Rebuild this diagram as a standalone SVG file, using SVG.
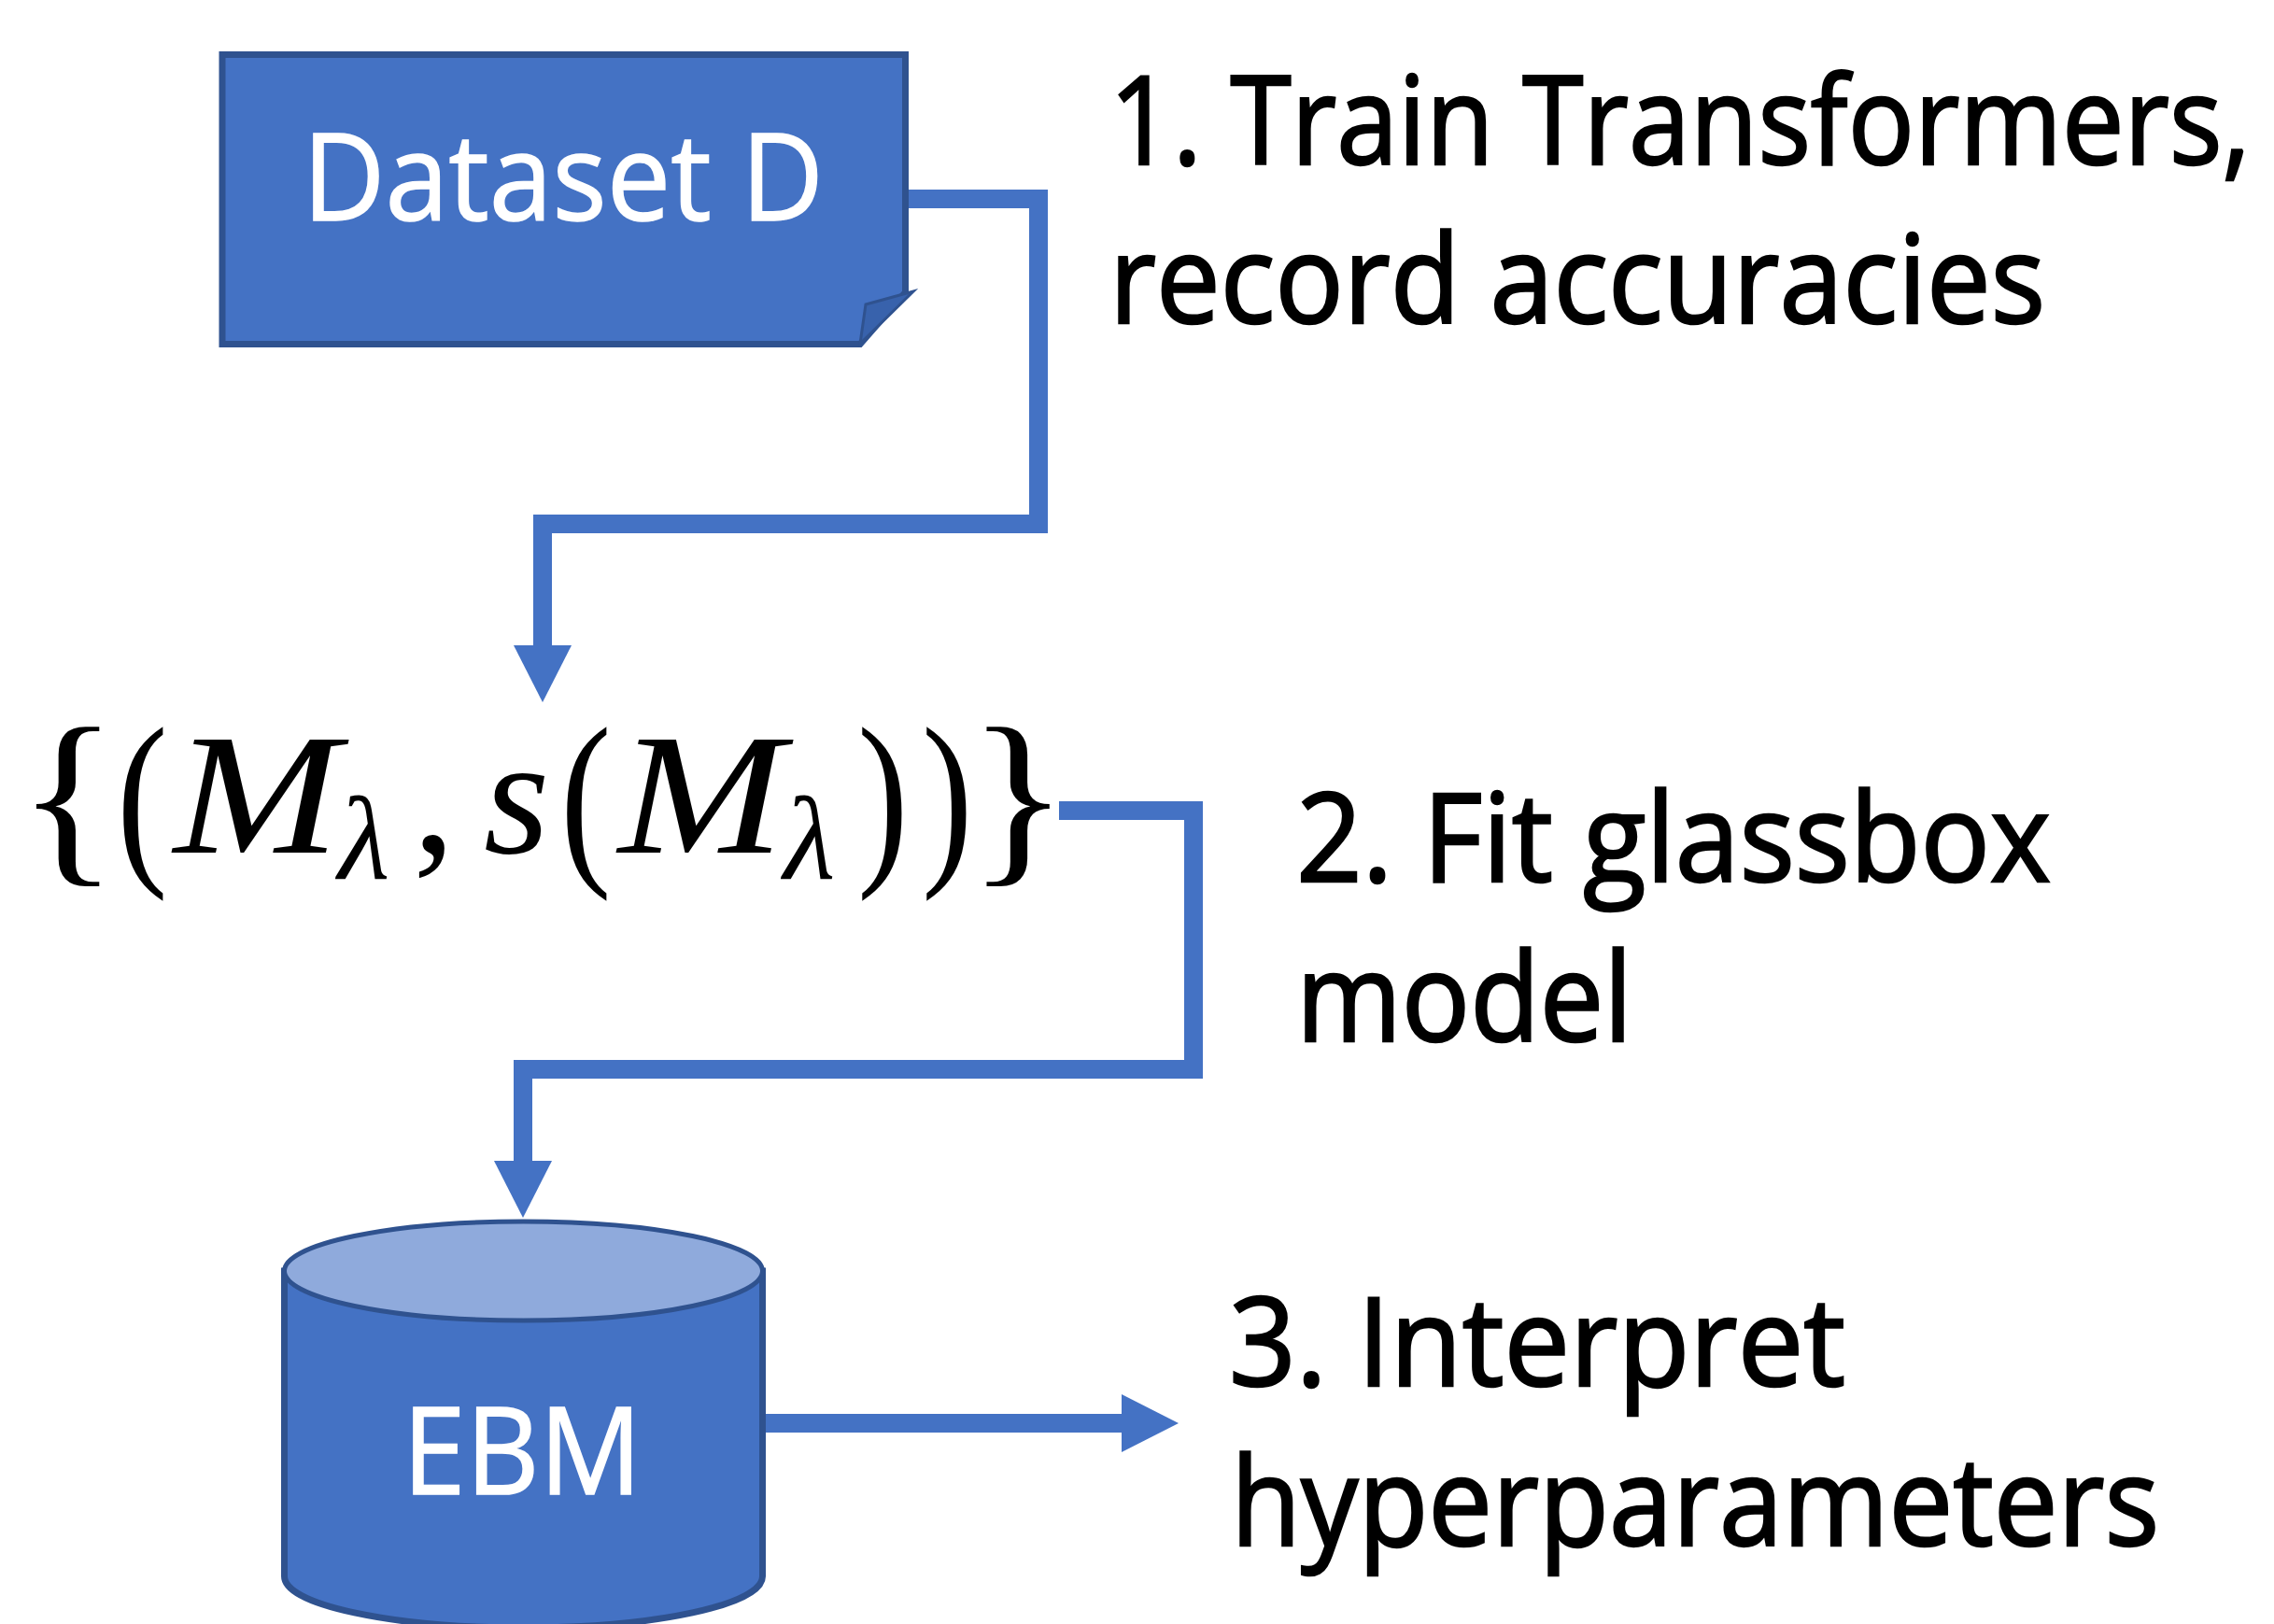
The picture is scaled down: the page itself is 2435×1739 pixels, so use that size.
<svg xmlns="http://www.w3.org/2000/svg" width="2435" height="1739" viewBox="0 0 2435 1739">
  <defs>
    <style>
      .label { font-family: "Open Sans", Lato, "Liberation Sans", sans-serif; font-size: 132px; fill: #000000; stroke: #000000; stroke-width: 2.5; }
      .inner { font-family: "Open Sans", Lato, "Liberation Sans", sans-serif; font-size: 130px; fill: #ffffff; stroke: #ffffff; stroke-width: 1.5; }
      .math { font-family: "Liberation Serif", "DejaVu Serif", serif; fill: #000000; }
      .mi { font-style: italic; }
      .delim { font-size: 205px; }
      .shape { fill: #4472C4; stroke: #2F528F; stroke-width: 7; stroke-linejoin: miter; }
      .link { fill: none; stroke: #4472C4; stroke-width: 20; stroke-linejoin: miter; stroke-linecap: butt; }
    </style>
    <marker id="arrow" viewBox="0 0 62 62" refX="0" refY="31" markerWidth="62" markerHeight="62" markerUnits="userSpaceOnUse" orient="auto">
      <path d="M0,0 L61,31 L0,62 Z" fill="#4472C4"/>
    </marker>
  </defs>

  <rect x="0" y="0" width="2435" height="1739" fill="#ffffff"/>

  <!-- Connectors -->
  <g id="connectors">
    <path class="link" d="M970,213 H1112 V561 H581 V691" marker-end="url(#arrow)"/>
    <path class="link" d="M1134,868 H1278 V1145 H560 V1243" marker-end="url(#arrow)"/>
    <path class="link" d="M818,1524 H1201" marker-end="url(#arrow)"/>
  </g>

  <!-- Dataset document with folded corner -->
  <g id="dataset">
    <path class="shape" d="M238,58.5 H969.5 V313 L921,368.5 H238 Z"/>
    <polygon points="921,368 927,326 978,312" fill="#3862AC" stroke="#2F528F" stroke-width="3" stroke-linejoin="miter"/>
    <text class="inner" x="324" y="236" textLength="558" lengthAdjust="spacingAndGlyphs">Dataset D</text>
  </g>

  <!-- Set of models with scores -->
  <g id="models">
    <text class="math delim" transform="translate(18.5,921) scale(1.1,1)">{</text>
    <text class="math delim" transform="translate(125,921) scale(0.8,1)">(</text>
    <text class="math mi" font-size="184" transform="translate(186,913) scale(1.16,1)">M</text>
    <text class="math mi" x="362" y="941" font-size="128">λ</text>
    <text class="math" x="442" y="913" font-size="181">,</text>
    <text class="math mi" x="518" y="913" font-size="181">s</text>
    <text class="math delim" transform="translate(600,921) scale(0.8,1)">(</text>
    <text class="math mi" font-size="184" transform="translate(662,913) scale(1.16,1)">M</text>
    <text class="math mi" x="839" y="941" font-size="128">λ</text>
    <text class="math delim" transform="translate(918,921) scale(0.8,1)">)</text>
    <text class="math delim" transform="translate(987,921) scale(0.8,1)">)</text>
    <text class="math delim" transform="translate(1036,921) scale(1.1,1)">}</text>
  </g>

  <!-- EBM database cylinder -->
  <g id="ebm">
    <path class="shape" stroke-width="5" d="M304.5,1361 V1688 A256,55 0 0 0 816.5,1688 V1361 Z"/>
    <ellipse cx="560.5" cy="1361" rx="256" ry="53" fill="#8FAADC" stroke="#2F528F" stroke-width="5"/>
    <text class="inner" x="431" y="1600" textLength="256" lengthAdjust="spacingAndGlyphs">EBM</text>
  </g>

  <!-- Step captions -->
  <g id="step1">
    <text class="label" x="1188" y="176" textLength="1222" lengthAdjust="spacingAndGlyphs">1. Train Transformers,</text>
    <text class="label" x="1188" y="346" textLength="1002" lengthAdjust="spacingAndGlyphs">record accuracies</text>
  </g>
  <g id="step2">
    <text class="label" x="1388" y="944" textLength="808" lengthAdjust="spacingAndGlyphs">2. Fit glassbox</text>
    <text class="label" x="1388" y="1115" textLength="360" lengthAdjust="spacingAndGlyphs">model</text>
  </g>
  <g id="step3">
    <text class="label" x="1316" y="1484" textLength="660" lengthAdjust="spacingAndGlyphs">3. Interpret</text>
    <text class="label" x="1318" y="1655" textLength="994" lengthAdjust="spacingAndGlyphs">hyperparameters</text>
  </g>
</svg>
